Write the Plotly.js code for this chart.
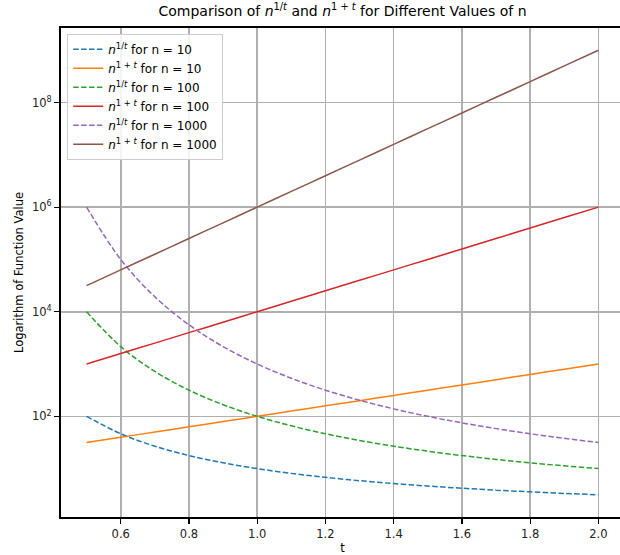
<!DOCTYPE html>
<html>
<head>
<meta charset="utf-8">
<script src="https://cdn.plot.ly/plotly-3.0.1.min.js"></script>
<style>
html,body{margin:0;padding:0;overflow:hidden;background:#fff;}
#chart{width:624px;height:555px;}
</style>
</head>
<body>
<div id="chart"></div>
<script>
// t samples
var tValues = [0.5,0.6,0.7,0.8,0.9,1.0,1.1,1.2,1.3,1.4,1.5,1.6,1.7,1.8,1.9,2.0];

// n^(1/t) and n^(1+t) series
var root10 = [100,46.42,26.83,17.78,12.92,10,8.111,6.813,5.878,5.179,4.642,4.217,3.875,3.594,3.360,3.162];
var pow10 = [31.62,39.81,50.12,63.10,79.43,100,125.9,158.5,199.5,251.2,316.2,398.1,501.2,631.0,794.3,1000];
var root100 = [10000,2154,719.7,316.2,166.8,100,65.79,46.42,34.55,26.83,21.54,17.78,15.01,12.92,11.29,10];
var pow100 = [1000,1585,2512,3981,6310,10000,15849,25119,39811,63096,100000,158489,251189,398107,630957,1000000];
var root1000 = [1000000,100000,19307,5623,2154,1000,533.7,316.2,203.1,138.9,100,74.99,58.19,46.42,37.93,31.62];
var pow1000 = [31623,63096,125893,251189,501187,1000000,1995262,3981072,7943282,15848932,31622777,63095734,125892541,251188643,501187234,1000000000];

var seriesNames = [
  "<i>n</i><sup>1/<i>t</i></sup> for n = 10",
  "<i>n</i><sup>1 + <i>t</i></sup> for n = 10",
  "<i>n</i><sup>1/<i>t</i></sup> for n = 100",
  "<i>n</i><sup>1 + <i>t</i></sup> for n = 100",
  "<i>n</i><sup>1/<i>t</i></sup> for n = 1000",
  "<i>n</i><sup>1 + <i>t</i></sup> for n = 1000"
];
var seriesData = [root10,pow10,root100,pow100,root1000,pow1000];
var colors = ["#1f77b4","#ff7f0e","#2ca02c","#d62728","#9467bd","#8c564b"];
var dashes = ["5.5px,2.4px","solid","5.5px,2.4px","solid","5.5px,2.4px","solid"];

var yTickVals = [1e2,1e4,1e6,1e8];
var yTickText = ["10<sup>2</sup>","10<sup>4</sup>","10<sup>6</sup>","10<sup>8</sup>"];
var xTickVals = [0.6,0.8,1.0,1.2,1.4,1.6,1.8,2.0];
var xTickText = ["0.6","0.8","1.0","1.2","1.4","1.6","1.8","2.0"];

var traces = seriesData.map(function(d,i){
  return {
    x: tValues, y: d, type: "scatter", mode: "lines", name: seriesNames[i],
    line: {color: colors[i], width: 1.5, dash: dashes[i], shape: "spline", smoothing: 1}
  };
});

var FF = "DejaVu Sans, sans-serif";

var layout = {
  width: 624, height: 555,
  margin: {l: 61, r: 0, t: 28, b: 38},
  paper_bgcolor: "#fff", plot_bgcolor: "#fff",
  font: {family: FF, size: 11.5, color: "#000"},
  title: {
    text: "Comparison of <i>n</i><sup>1/<i>t</i></sup> and <i>n</i><sup>1 + <i>t</i></sup> for Different Values of n",
    font: {family: FF, size: 14, color: "#000"},
    x: 0.5, xref: "paper", xanchor: "center", y: 1, yref: "container", yanchor: "top", pad: {t: 6}
  },
  xaxis: {
    range: [0.425, 2.075],
    tickvals: xTickVals, ticktext: xTickText,
    showgrid: true, gridcolor: "#b0b0b0", gridwidth: 1.6,
    showline: true, linecolor: "#000", linewidth: 2, mirror: true,
    ticks: "outside", ticklen: 5, tickwidth: 1.2, tickcolor: "#000",
    zeroline: false,
    tickfont: {family: FF, size: 11.5, color: "#222"},
    title: {text: "t", font: {family: FF, size: 11.5, color: "#000"}, standoff: 4}
  },
  yaxis: {
    type: "log",
    range: [0.075, 9.425],
    tickvals: yTickVals, ticktext: yTickText,
    showgrid: true, gridcolor: "#b0b0b0", gridwidth: 1.6,
    showline: true, linecolor: "#000", linewidth: 2, mirror: true,
    ticks: "outside", ticklen: 5, tickwidth: 1.2, tickcolor: "#000",
    zeroline: false,
    tickfont: {family: FF, size: 11.5, color: "#222"},
    title: {text: "Logarithm of Function Value", font: {family: FF, size: 11.5, color: "#000"}, standoff: 6}
  },
  showlegend: true,
  legend: {
    x: 0.011, y: 0.988, xanchor: "left", yanchor: "top",
    bgcolor: "rgba(255,255,255,0.85)", bordercolor: "#cccccc", borderwidth: 1,
    font: {family: FF, size: 12, color: "#000"},
    tracegroupgap: 0, itemwidth: 30
  }
};

Plotly.newPlot("chart", traces, layout, {displayModeBar: false, staticPlot: true});
</script>
</body>
</html>
